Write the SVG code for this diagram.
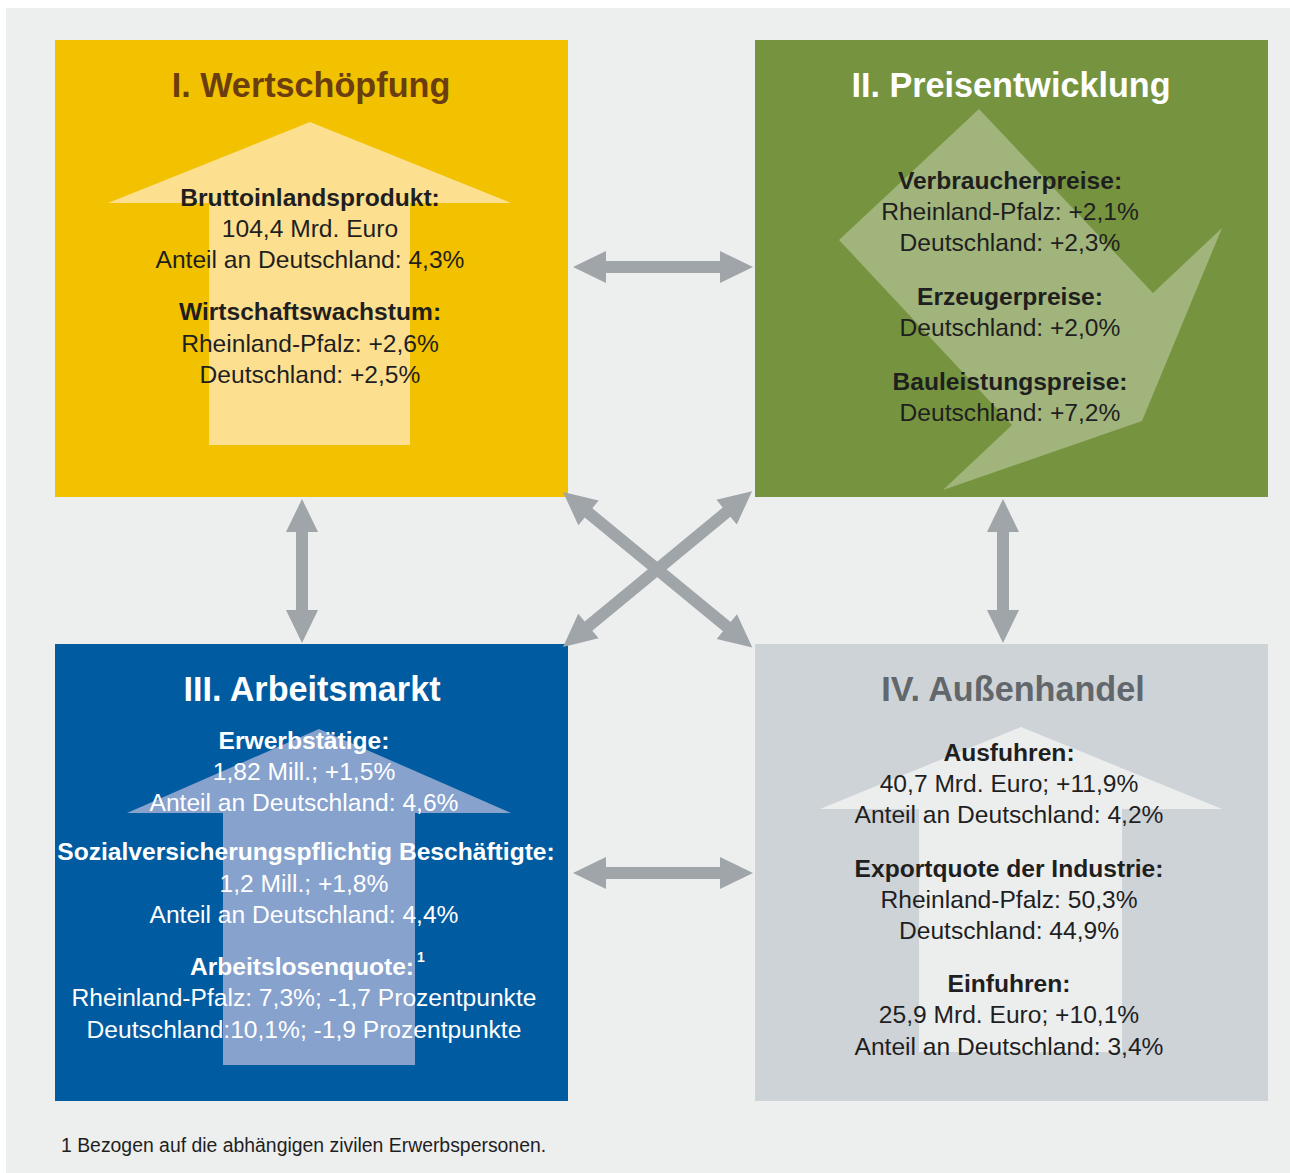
<svg xmlns="http://www.w3.org/2000/svg" width="1290" height="1173" viewBox="0 0 1290 1173">
<style>
text{font-family:"Liberation Sans",Arial,Helvetica,sans-serif;text-anchor:middle}
.t{font-size:34.2px;font-weight:bold}
.b{font-size:24.6px;font-weight:bold}
.r{font-size:24.6px}
.dk{fill:#1f1f1f}
.wh{fill:#ffffff}
.conn{fill:#a0a5a9}
</style>
<defs>
<polygon id="da245" points="0,0 33,-16 33,-6 212,-6 212,-16 245,0 212,16 212,6 33,6 33,16"/>
</defs>
<rect x="6" y="8" width="1284" height="1165" fill="#edeeee"/>

<g id="node-wertschoepfung">
<rect x="55" y="40" width="513" height="457" fill="#f2c200"/>
<polygon points="310,122 511,203 410,203 410,445 209,445 209,203 108,203" fill="#fde08f"/>
<text class="t" x="311" y="97" fill="#6a3e0f">I. Wertschöpfung</text>
<g class="dk">
<text class="b" x="310" y="206">Bruttoinlandsprodukt:</text>
<text class="r" x="310" y="237">104,4 Mrd. Euro</text>
<text class="r" x="310" y="268">Anteil an Deutschland: 4,3%</text>
<text class="b" x="310" y="320">Wirtschaftswachstum:</text>
<text class="r" x="310" y="352">Rheinland-Pfalz: +2,6%</text>
<text class="r" x="310" y="383">Deutschland: +2,5%</text>
</g>
</g>

<g id="node-preisentwicklung">
<rect x="755" y="40" width="513" height="457" fill="#76943f"/>
<polygon points="979,109 1153,293 1222,228 1142,421 943,490 1012,425 839,240" fill="#a0b47b"/>
<text class="t" x="1011" y="97" fill="#ffffff">II. Preisentwicklung</text>
<g class="dk">
<text class="b" x="1010" y="189">Verbraucherpreise:</text>
<text class="r" x="1010" y="220">Rheinland-Pfalz: +2,1%</text>
<text class="r" x="1010" y="251">Deutschland: +2,3%</text>
<text class="b" x="1010" y="305">Erzeugerpreise:</text>
<text class="r" x="1010" y="336">Deutschland: +2,0%</text>
<text class="b" x="1010" y="390">Bauleistungspreise:</text>
<text class="r" x="1010" y="421">Deutschland: +7,2%</text>
</g>
</g>

<g id="node-arbeitsmarkt">
<rect x="55" y="644" width="513" height="457" fill="#005ba1"/>
<polygon points="319,729 511,813 415,813 415,1065 223,1065 223,813 127,813" fill="#87a2cd"/>
<text class="t" x="312" y="701" fill="#ffffff">III. Arbeitsmarkt</text>
<g class="wh">
<text class="b" x="304" y="749">Erwerbstätige:</text>
<text class="r" x="304" y="780">1,82 Mill.; +1,5%</text>
<text class="r" x="304" y="811">Anteil an Deutschland: 4,6%</text>
<text class="b" x="306" y="860">Sozialversicherungspflichtig Beschäftigte:</text>
<text class="r" x="304" y="892">1,2 Mill.; +1,8%</text>
<text class="r" x="304" y="923">Anteil an Deutschland: 4,4%</text>
<text class="b" x="302" y="975">Arbeitslosenquote:</text>
<text x="421" y="962" style="font-size:14px;font-weight:bold">1</text>
<text class="r" x="304" y="1006">Rheinland-Pfalz: 7,3%; -1,7 Prozentpunkte</text>
<text class="r" x="304" y="1038">Deutschland:10,1%; -1,9 Prozentpunkte</text>
</g>
</g>

<g id="node-aussenhandel">
<rect x="755" y="644" width="513" height="457" fill="#ced3d7"/>
<polygon points="1021,727 1222,809 1122,809 1122,1052 919,1052 919,809 820,809" fill="#eceeee"/>
<text class="t" x="1013" y="701" fill="#62676b">IV. Außenhandel</text>
<g class="dk">
<text class="b" x="1009" y="761">Ausfuhren:</text>
<text class="r" x="1009" y="792">40,7 Mrd. Euro; +11,9%</text>
<text class="r" x="1009" y="823">Anteil an Deutschland: 4,2%</text>
<text class="b" x="1009" y="877">Exportquote der Industrie:</text>
<text class="r" x="1009" y="908">Rheinland-Pfalz: 50,3%</text>
<text class="r" x="1009" y="939">Deutschland: 44,9%</text>
<text class="b" x="1009" y="992">Einfuhren:</text>
<text class="r" x="1009" y="1023">25,9 Mrd. Euro; +10,1%</text>
<text class="r" x="1009" y="1055">Anteil an Deutschland: 3,4%</text>
</g>
</g>

<g id="connectors" class="conn">
<polygon points="573,267 606,251 606,261 720,261 720,251 753,267 720,283 720,273 606,273 606,283"/>
<polygon points="573,873 606,857 606,867 720,867 720,857 753,873 720,889 720,879 606,879 606,889"/>
<polygon points="302,499 318,532 308,532 308,610 318,610 302,643 286,610 296,610 296,532 286,532"/>
<polygon points="1003,499 1019,532 1009,532 1009,610 1019,610 1003,643 987,610 997,610 997,532 987,532"/>
<use href="#da245" transform="translate(563,492) rotate(39.4)"/>
<use href="#da245" transform="translate(563,647) rotate(-39.5)"/>
</g>

<text x="61" y="1152" style="font-size:19.4px;text-anchor:start" fill="#1f1f1f">1 Bezogen auf die abhängigen zivilen Erwerbspersonen.</text>
</svg>
